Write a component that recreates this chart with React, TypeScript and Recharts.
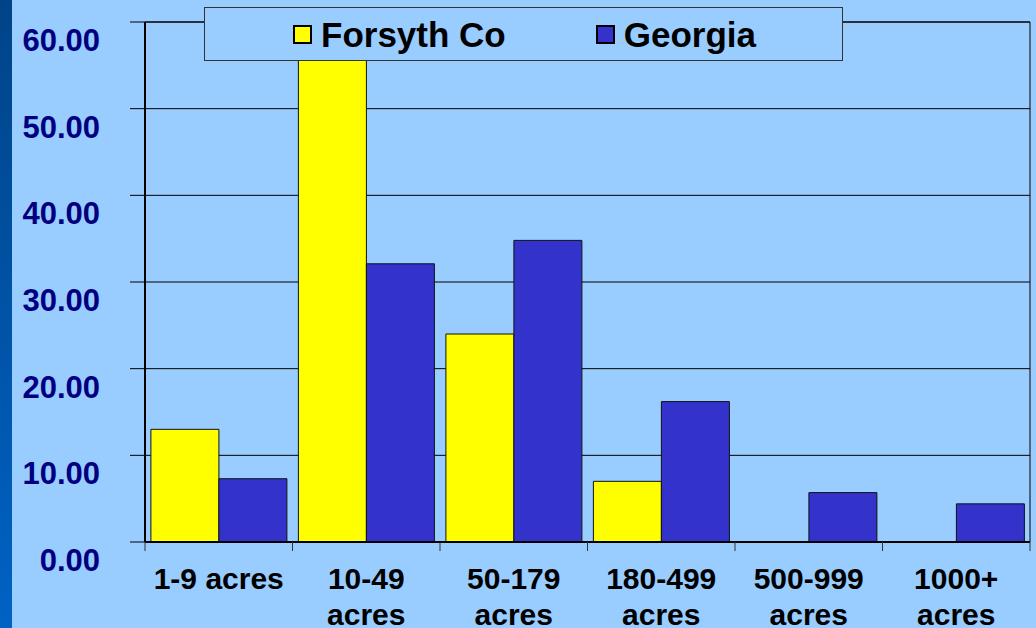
import {
  BarChart, Bar, XAxis, YAxis, CartesianGrid, ReferenceArea, Legend,
} from "recharts";

const categories = ["1-9 acres", "10-49\nacres", "50-179\nacres", "180-499\nacres", "500-999\nacres", "1000+\nacres"];
const forsyth = [13.0, 56.0, 24.0, 7.0, 0, 0];
const georgia = [7.3, 32.1, 34.8, 16.2, 5.7, 4.4];
const yTicks = [0, 10, 20, 30, 40, 50, 60];

const data = categories.map((c, i) => ({ cat: c, forsyth: forsyth[i], georgia: georgia[i] }));

const FONT = "'Liberation Sans', Arial, sans-serif";
const BAND = (1030 - 145) / categories.length;

function YTick(props: any) {
  const { x, y, payload } = props;
  return (
    <text x={x} y={y + 29} textAnchor="end" fontFamily={FONT} fontWeight="bold" fontSize={31} fill="#000080">
      {Number(payload.value).toFixed(2)}
    </text>
  );
}

function XTick(props: any) {
  const { x, y, payload, index } = props;
  const lines = String(payload.value).split("\n");
  const left = x - BAND / 2;
  return (
    <g>
      <line x1={left} x2={left} y1={y} y2={y + 9} stroke="#333" strokeWidth={1} />
      {index === categories.length - 1 && (
        <line x1={left + BAND} x2={left + BAND} y1={y} y2={y + 9} stroke="#333" strokeWidth={1} />
      )}
      {lines.map((l, i) => (
        <text key={i} x={x} y={y + 47 + i * 36} textAnchor="middle" fontFamily={FONT} fontWeight="bold" fontSize={30} fill="#000">
          {l}
        </text>
      ))}
    </g>
  );
}

function LegendBox() {
  const item = (color: string, label: string, gap: number) => (
    <div style={{ display: "flex", alignItems: "center", marginRight: gap }}>
      <div style={{ width: 19, height: 19, boxSizing: "border-box", background: color, border: "2px solid #000", marginRight: 9 }} />
      <span style={{ fontFamily: FONT, fontWeight: "bold", fontSize: 35, color: "#000", lineHeight: 1 }}>{label}</span>
    </div>
  );
  return (
    <div style={{
      width: 639, height: 54, boxSizing: "border-box", background: "#99CCFF", border: "1.5px solid #333",
      display: "flex", alignItems: "center", paddingLeft: 88,
    }}>
      {item("#FFFF00", "Forsyth Co", 90)}
      {item("#3333CC", "Georgia", 0)}
    </div>
  );
}

export default function App() {
  return (
    <div style={{ position: "absolute", left: 0, top: 0, width: 1036, height: 628, background: "#99CCFF", overflow: "hidden" }}>
      <div style={{ position: "absolute", left: 0, top: 0, width: 12, height: 628, background: "linear-gradient(#004488, #0062C4)" }} />
      <BarChart
        width={1036}
        height={628}
        data={data}
        margin={{ top: 22, right: 6, left: 0, bottom: 0 }}
        barCategoryGap="4%"
        barGap={0}
      >
        <CartesianGrid vertical={false} stroke="#000" strokeWidth={1} />
        <XAxis
          dataKey="cat"
          height={86}
          interval={0}
          tickSize={0}
          tickMargin={0}
          axisLine={{ stroke: "#000", strokeWidth: 2 }}
          tick={<XTick />}
        />
        <YAxis
          width={145}
          domain={[0, 60]}
          ticks={yTicks}
          tickSize={15}
          tickMargin={30}
          tickLine={{ stroke: "#000" }}
          axisLine={{ stroke: "#000", strokeWidth: 2 }}
          tick={<YTick />}
        />
        <ReferenceArea y1={0} y2={60} fill="none" stroke="#000" strokeWidth={1} />
        <Bar dataKey="forsyth" name="Forsyth Co" fill="#FFFF00" stroke="#111" strokeWidth={1} isAnimationActive={false} />
        <Bar dataKey="georgia" name="Georgia" fill="#3333CC" stroke="#111" strokeWidth={1} isAnimationActive={false} />
        <Legend
          verticalAlign="middle"
          align="center"
          content={<LegendBox />}
          wrapperStyle={{ left: 204, top: 7, width: 639, height: 54 }}
        />
      </BarChart>
    </div>
  );
}
